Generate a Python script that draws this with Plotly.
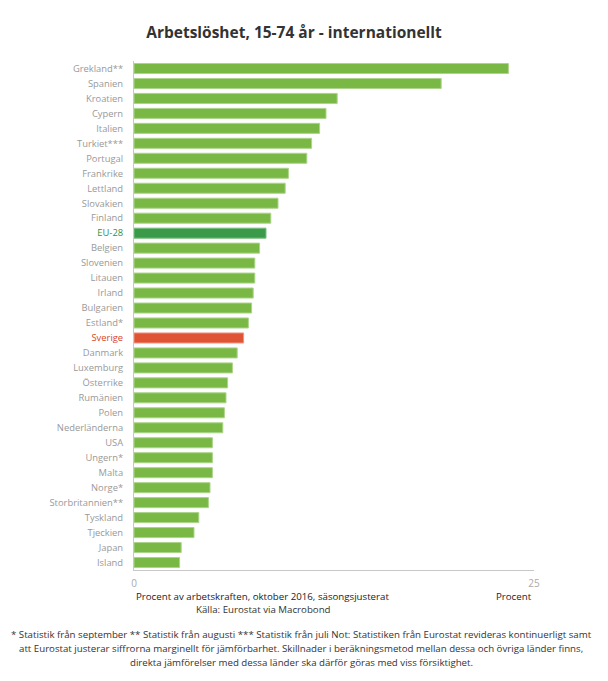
import plotly.graph_objects as go

countries = ["Grekland**", "Spanien", "Kroatien", "Cypern", "Italien", "Turkiet***",
             "Portugal", "Frankrike", "Lettland", "Slovakien", "Finland", "EU-28",
             "Belgien", "Slovenien", "Litauen", "Irland", "Bulgarien", "Estland*",
             "Sverige", "Danmark", "Luxemburg", "Österrike", "Rumänien", "Polen",
             "Nederländerna", "USA", "Ungern*", "Malta", "Norge*", "Storbritannien**",
             "Tyskland", "Tjeckien", "Japan", "Island"]
values = [23.4, 19.2, 12.7, 12.0, 11.6, 11.1,
          10.8, 9.65, 9.45, 9.0, 8.55, 8.25,
          7.85, 7.55, 7.55, 7.45, 7.35, 7.15,
          6.85, 6.45, 6.15, 5.85, 5.75, 5.65,
          5.55, 4.9, 4.9, 4.9, 4.75, 4.65,
          4.05, 3.75, 2.95, 2.85]
x_ticks = [0, 25]

GREEN, GREEN_EDGE = "#7ab845", "#acd48a"
EU, EU_EDGE = "#3a9a4a", "#79c07f"
SE, SE_EDGE = "#e05436", "#ee9580"

colors, edges, labels = [], [], []
for c in countries:
    if c == "EU-28":
        colors.append(EU); edges.append(EU_EDGE)
        labels.append(f"<span style='color:#2e9440'>{c}</span>")
    elif c == "Sverige":
        colors.append(SE); edges.append(SE_EDGE)
        labels.append(f"<span style='color:#d9472b'>{c}</span>")
    else:
        colors.append(GREEN); edges.append(GREEN_EDGE)
        labels.append(c)

FONT = "Open Sans"
OFF = 8  # page body margin

W, H = 608 - OFF, 681 - OFF

fig = go.Figure(go.Bar(
    x=values, y=countries, orientation="h",
    marker=dict(color=colors, line=dict(color=edges, width=1)),
    hoverinfo="x+y",
))

fig.update_layout(
    width=W, height=H, autosize=False,
    margin=dict(l=134 - OFF, r=74, t=61 - OFF, b=111, pad=0),
    paper_bgcolor="white", plot_bgcolor="white",
    bargap=0.33, showlegend=False,
    font=dict(family=FONT, color="#999999", size=10),
    title=dict(text="<b>Arbetslöshet, 15-74 år - internationellt</b>",
               x=(294 - OFF) / W, xanchor="center", xref="container",
               y=1 - (33 - OFF) / H, yanchor="middle", yref="container",
               font=dict(family=FONT, size=15.5, color="#333333")),
    xaxis=dict(range=[0, 25], tickvals=x_ticks, showgrid=False, zeroline=False,
               showline=True, linecolor="#c8c8c8", linewidth=1,
               ticks="outside", ticklen=4, tickcolor="rgba(0,0,0,0)",
               tickfont=dict(size=10, color="#aaaaaa"), fixedrange=True),
    yaxis=dict(categoryorder="array", categoryarray=countries,
               tickvals=countries, ticktext=labels,
               range=[len(countries) - 0.5, -0.5], showgrid=False, zeroline=False,
               showline=True, linecolor="#c8c8c8", linewidth=1,
               ticks="", ticklabelstandoff=8,
               tickfont=dict(size=9.4, color="#999999"), fixedrange=True),
)

ann = [
    dict(text="Procent av arbetskraften, oktober 2016, säsongsjusterat", x=0, xanchor="left",
         y=0, yshift=-26, font=dict(size=9.7, color="#222222")),
    dict(text="Procent", x=1, xanchor="right",
         y=0, yshift=-26, font=dict(size=9.7, color="#222222")),
    dict(text="Källa: Eurostat via Macrobond", x=(263 - 134) / 400, xanchor="center",
         y=0, yshift=-39, font=dict(size=9.7, color="#333333")),
]
foot = [
    "* Statistik från september ** Statistik från augusti *** Statistik från juli Not: Statistiken från Eurostat revideras kontinuerligt samt",
    "att Eurostat justerar siffrorna marginellt för jämförbarhet. Skillnader i beräkningsmetod mellan dessa och övriga länder finns,",
    "direkta jämförelser med dessa länder ska därför göras med viss försiktighet.",
]
for i, line in enumerate(foot):
    ann.append(dict(text=line, x=(301 - 134) / 400, xanchor="center",
                    y=0, yshift=-64 - 14 * i, font=dict(size=9.7, color="#333333")))
for a in ann:
    a.update(xref="paper", yref="paper", yanchor="middle", showarrow=False)
    a["font"]["family"] = FONT
fig.update_layout(annotations=ann)

fig.write_html("out.html")
